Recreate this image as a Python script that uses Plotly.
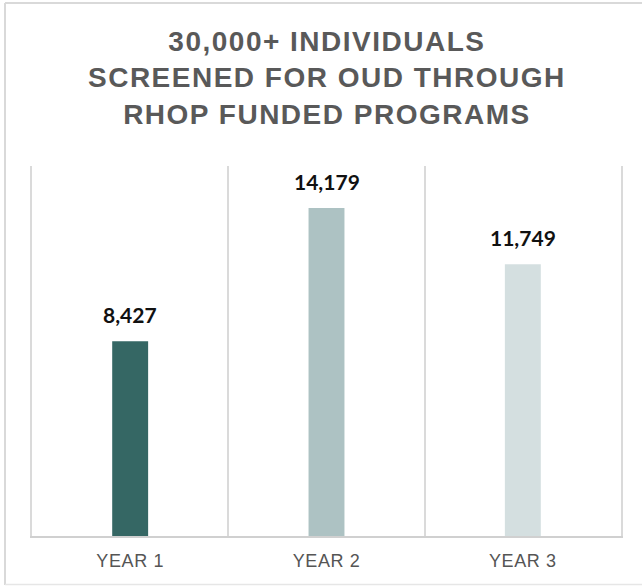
import plotly.graph_objects as go

categories = ["YEAR 1", "YEAR 2", "YEAR 3"]
values = [8427, 14179, 11749]
bar_colors = ["#356764", "#adc2c3", "#d4dfe0"]
title_lines = ["30,000+ INDIVIDUALS", "SCREENED FOR OUD THROUGH", "RHOP FUNDED PROGRAMS"]

x_pos = list(range(len(categories)))

fig = go.Figure()
fig.add_trace(go.Bar(
    x=x_pos, y=values, width=0.183,
    marker=dict(color=bar_colors, line=dict(width=0)),
    hoverinfo="skip",
))

narrow = "Liberation Sans Narrow, Liberation Sans, Arial, sans-serif"

annotations = []
for xi, v in zip(x_pos, values):
    annotations.append(dict(
        x=xi, y=v, xref="x", yref="y", text="<b>{:,}</b>".format(v),
        showarrow=False, yanchor="bottom", yshift=12,
        font=dict(family="Lato, Open Sans, sans-serif", size=21, color="#111111"),
    ))

title_text = "<br>".join(
    '<span style="letter-spacing:1.5px">{}</span>'.format(t) for t in title_lines
)
annotations.append(dict(
    x=0.5, y=1.238, xref="paper", yref="paper", text="<b>" + title_text + "</b>",
    showarrow=False, xanchor="center", yanchor="middle", align="center",
    font=dict(family=narrow, size=28, color="#595959"),
))

tick_text = ['<span style="letter-spacing:0.6px">{}</span>'.format(c) for c in categories]

fig.update_layout(
    width=642, height=586,
    margin=dict(l=32, r=21, t=166, b=50),
    paper_bgcolor="white", plot_bgcolor="white",
    showlegend=False,
    annotations=annotations,
    xaxis=dict(
        range=[-0.5, 2.5], tickvals=x_pos, ticktext=tick_text,
        showgrid=False, zeroline=False,
        showline=True, linecolor="#d0d0d0", linewidth=2,
        ticks="", ticklabelstandoff=7,
        tickfont=dict(family=narrow, size=18, color="#555555"),
        minor=dict(tick0=0.5, dtick=1, showgrid=True, gridcolor="#dadada", gridwidth=2, ticks=""),
        fixedrange=True,
    ),
    yaxis=dict(
        range=[0, 16000], showgrid=False, zeroline=False, showticklabels=False,
        showline=True, mirror=True, linecolor="#dadada", linewidth=2, ticks="",
        fixedrange=True,
    ),
    shapes=[
        dict(type="line", xref="paper", yref="paper", x0=(5 - 32) / 589, x1=(5 - 32) / 589,
             y0=(536 - 585) / 370, y1=(536 - 3) / 370, line=dict(color="#d9d9d9", width=2)),
        dict(type="line", xref="paper", yref="paper", x0=(5 - 32) / 589, x1=1.2,
             y0=(536 - 3) / 370, y1=(536 - 3) / 370, line=dict(color="#d9d9d9", width=2)),
        dict(type="line", xref="paper", yref="paper", x0=(5 - 32) / 589, x1=1.2,
             y0=(536 - 584.5) / 370, y1=(536 - 584.5) / 370, line=dict(color="#e6e6e6", width=1.5)),
    ],
)

fig.write_html("out.html", config={"displayModeBar": False},
               post_script="document.body.style.margin='0';")
